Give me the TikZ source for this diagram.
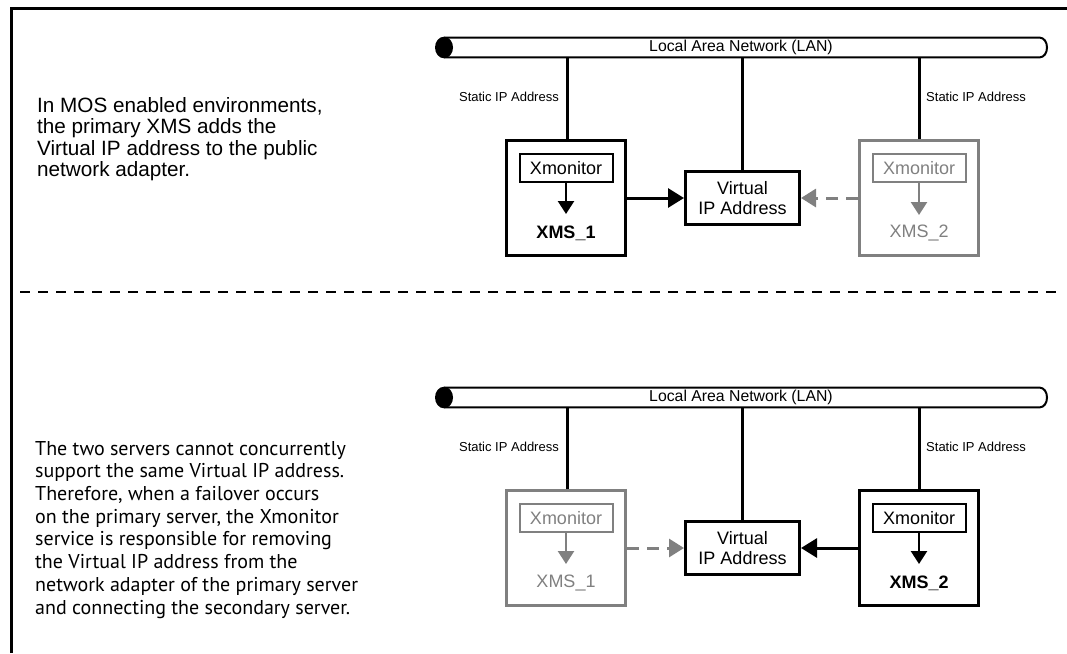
\documentclass[tikz,border=0pt]{standalone}
\usepackage{fontspec}
\setmainfont{Liberation Sans}
\newfontfamily\bodyfont{PT Sans}
\usetikzlibrary{arrows.meta}
\definecolor{grayc}{RGB}{128,128,128}
\tikzset{
  srv/.style={draw, line width=3pt, minimum width=119pt, minimum height=115pt, inner sep=0pt},
  srvoff/.style={srv, draw=grayc},
  mon/.style={draw, line width=2pt, minimum width=93pt, minimum height=28.6pt, inner sep=0pt,
    font=\fontsize{18pt}{20pt}\selectfont},
  monoff/.style={mon, draw=grayc, text=grayc},
  srvname/.style={inner sep=0pt, font=\fontsize{18pt}{20pt}\selectfont\bfseries},
  srvnameoff/.style={inner sep=0pt, text=grayc, font=\fontsize{18pt}{20pt}\selectfont},
  vip/.style={draw, line width=3pt, minimum width=114pt, minimum height=53pt, inner sep=0pt,
    align=center, font=\fontsize{18pt}{20pt}\selectfont},
  conn/.style={line width=3pt, -{Triangle[length=16pt,width=19pt]}},
  connoff/.style={line width=3pt, draw=grayc, dash pattern=on 12pt off 8pt,
    -{Triangle[length=15pt,width=18pt,fill=grayc]}},
  down/.style={line width=2.5pt, -{Triangle[length=13pt,width=16pt]}},
  downoff/.style={down, draw=grayc, -{Triangle[length=13pt,width=16pt,fill=grayc]}},
  vline/.style={line width=3pt},
  lbl/.style={inner sep=0pt, font=\fontsize{13pt}{15pt}\selectfont},
  lanlbl/.style={inner sep=0pt, font=\fontsize{15.8pt}{18pt}\selectfont},
  bar/.style={line width=2pt},
  para/.style={anchor=base west, inner sep=0pt, align=left},
}
\newcommand\lanbar{%
  \fill (444,47.5) ellipse [x radius=9, y radius=10.8];
  \draw[bar] (444,37.7) -- (1040,37.7) arc[start angle=-90, end angle=90, x radius=7, y radius=9.8] -- (444,57.3);
}
\begin{document}
\begin{tikzpicture}[x=1pt, y=-1pt]
\useasboundingbox (0,0) rectangle (1067,653);
% frame
\draw[line width=2.7pt] (11.3,653) -- (11.3,8.7) -- (1067,8.7);
% separator
\draw[line width=1.5pt, dash pattern=on 10pt off 8pt] (20,292) -- (1062,292);

% left texts (anchor = baseline of last line)
\node[para, font=\fontsize{20.7pt}{21.3pt}\selectfont] (atext) at (37,176.4)
  {In MOS enabled environments,\\the primary XMS adds the\\Virtual IP address to the public\\network adapter.};
\node[para, font=\bodyfont\fontsize{20pt}{22.7pt}\selectfont] (btext) at (35,614)
  {The two servers cannot concurrently\\support the same Virtual IP address.\\Therefore, when a failover occurs\\on the primary server, the Xmonitor\\service is responsible for removing\\the Virtual IP address from the\\network adapter of the primary server\\and connecting the secondary server.};

% ---------- top panel ----------
\lanbar
\node[lanlbl] (alan) at (741,47.5) {Local Area Network (LAN)};
\coordinate (alanb) at (742,58);
\node[srv] (asrv1) at (566,198) {};
\node[srvoff] (asrv2) at (919,198) {};
\node[vip] (avip) at (742.5,198) {Virtual\\IP Address};
\node[mon] (amon1) at (566,168) {Xmonitor};
\node[monoff] (amon2) at (919,168) {Xmonitor};
\coordinate (atip1) at (566,214);
\coordinate (atip2) at (919,215);
\draw[down] (amon1) -- (atip1);
\draw[downoff] (amon2) -- (atip2);
\node[srvname] (aname1) at (566,233) {XMS\_1};
\node[srvnameoff] (aname2) at (919,233) {XMS\_2};
\draw[vline] (asrv1.north -| 567,0) -- (alanb -| 567,0);
\draw[vline] (avip.north) -- (avip.north |- alanb);
\draw[vline] (asrv2.north) -- (asrv2.north |- alanb);
\draw[conn] (asrv1) -- (avip);
\draw[connoff] (asrv2) -- (avip);
\node[lbl, anchor=east] (asip1) at (559,97) {Static IP Address};
\node[lbl, anchor=west] (asip2) at (926,97) {Static IP Address};

% ---------- bottom panel ----------
\begin{scope}[yshift=-350pt]
\lanbar
\node[lanlbl] (blan) at (741,47.5) {Local Area Network (LAN)};
\coordinate (blanb) at (742,58);
\node[srvoff] (bsrv1) at (566,198) {};
\node[srv] (bsrv2) at (919,198) {};
\node[vip] (bvip) at (742.5,198) {Virtual\\IP Address};
\node[monoff] (bmon1) at (566,168) {Xmonitor};
\node[mon] (bmon2) at (919,168) {Xmonitor};
\coordinate (btip1) at (566,214);
\coordinate (btip2) at (919,214);
\draw[downoff] (bmon1) -- (btip1);
\draw[down] (bmon2) -- (btip2);
\node[srvnameoff] (bname1) at (566,233) {XMS\_1};
\node[srvname] (bname2) at (919,233) {XMS\_2};
\draw[vline] (bsrv1.north -| 567,0) -- (blanb -| 567,0);
\draw[vline] (bvip.north) -- (bvip.north |- blanb);
\draw[vline] (bsrv2.north) -- (bsrv2.north |- blanb);
\draw[connoff] (bsrv1) -- (bvip);
\draw[conn] (bsrv2) -- (bvip);
\node[lbl, anchor=east] (bsip1) at (559,97) {Static IP Address};
\node[lbl, anchor=west] (bsip2) at (926,97) {Static IP Address};
\end{scope}
\end{tikzpicture}
\end{document}
